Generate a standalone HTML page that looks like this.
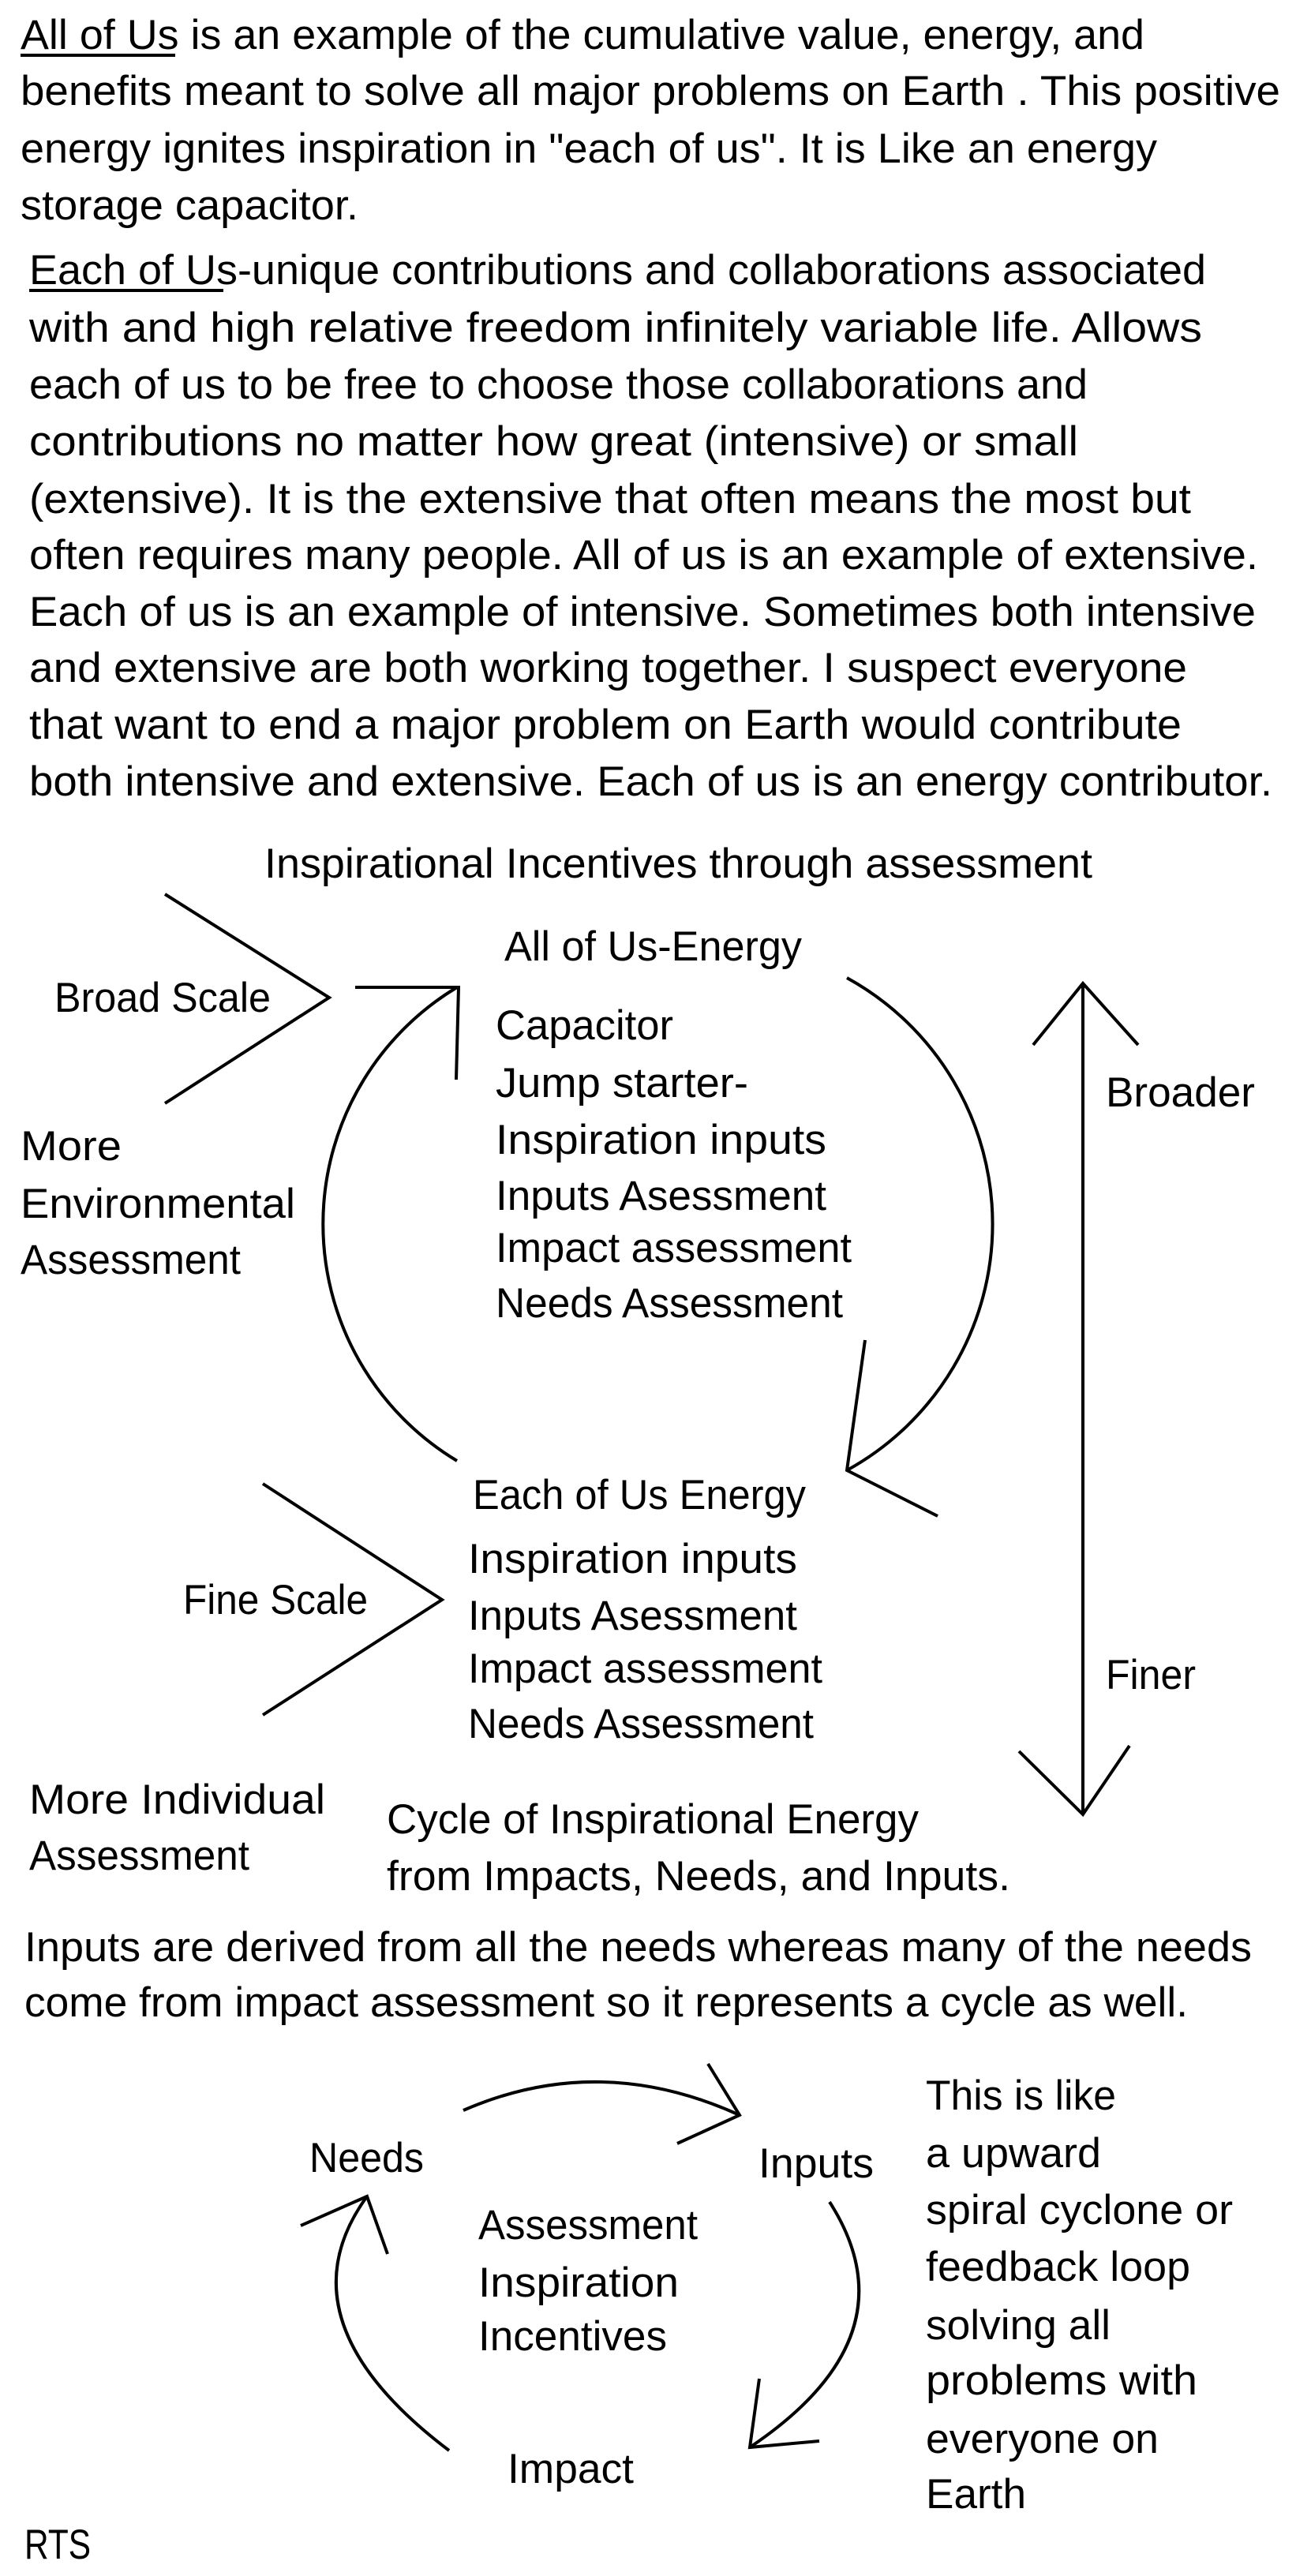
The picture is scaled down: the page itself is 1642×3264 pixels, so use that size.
<!DOCTYPE html>
<html><head><meta charset="utf-8"><style>
html,body{margin:0;padding:0;background:#fff;}
svg{display:block;}
text{font-family:"Liberation Sans",sans-serif;font-size:53px;fill:#000;}
</style></head><body>
<svg width="1642" height="3264" viewBox="0 0 1642 3264" xmlns="http://www.w3.org/2000/svg">
<g>
<text x="26" y="62" textLength="1424" lengthAdjust="spacingAndGlyphs">All of Us is an example of the cumulative value, energy, and</text>
<text x="26" y="133" textLength="1596" lengthAdjust="spacingAndGlyphs">benefits meant to solve all major problems on Earth .  This positive</text>
<text x="26" y="206" textLength="1440" lengthAdjust="spacingAndGlyphs">energy ignites inspiration in "each of us". It is Like an energy</text>
<text x="26" y="278" textLength="428" lengthAdjust="spacingAndGlyphs">storage capacitor.</text>

<text x="37" y="360" textLength="1491" lengthAdjust="spacingAndGlyphs">Each of Us-unique contributions and collaborations associated</text>
<text x="37" y="433" textLength="1486" lengthAdjust="spacingAndGlyphs">with and high relative freedom  infinitely  variable life.  Allows</text>
<text x="37" y="505" textLength="1341" lengthAdjust="spacingAndGlyphs">each of us to be free to choose those collaborations and</text>
<text x="37" y="577" textLength="1329" lengthAdjust="spacingAndGlyphs">contributions   no matter how great (intensive) or small</text>
<text x="37" y="650" textLength="1472" lengthAdjust="spacingAndGlyphs">(extensive).  It is the extensive that often means the most but</text>
<text x="37" y="721" textLength="1557" lengthAdjust="spacingAndGlyphs">often requires many people.  All of us is an example of extensive.</text>
<text x="37" y="793" textLength="1554" lengthAdjust="spacingAndGlyphs">Each of us is an example of intensive.   Sometimes both intensive</text>
<text x="37" y="864" textLength="1467" lengthAdjust="spacingAndGlyphs">and extensive are both working together.  I suspect everyone</text>
<text x="37" y="936" textLength="1460" lengthAdjust="spacingAndGlyphs">that want to end a major problem on Earth would contribute</text>
<text x="37" y="1008" textLength="1575" lengthAdjust="spacingAndGlyphs">both intensive and extensive.  Each of us is an energy contributor.</text>

<text x="335" y="1112" textLength="1049" lengthAdjust="spacingAndGlyphs">Inspirational Incentives through assessment</text>
<text x="639" y="1217" textLength="377" lengthAdjust="spacingAndGlyphs">All of Us-Energy</text>
<text x="628" y="1317" textLength="225" lengthAdjust="spacingAndGlyphs">Capacitor</text>
<text x="628" y="1390" textLength="320" lengthAdjust="spacingAndGlyphs">Jump starter-</text>
<text x="628" y="1462" textLength="419" lengthAdjust="spacingAndGlyphs">Inspiration inputs</text>
<text x="628" y="1533" textLength="419" lengthAdjust="spacingAndGlyphs">Inputs Asessment</text>
<text x="628" y="1599" textLength="451" lengthAdjust="spacingAndGlyphs">Impact assessment</text>
<text x="628" y="1669" textLength="440" lengthAdjust="spacingAndGlyphs">Needs Assessment</text>
<text x="69" y="1282" textLength="274" lengthAdjust="spacingAndGlyphs">Broad Scale</text>
<text x="26" y="1470" textLength="128" lengthAdjust="spacingAndGlyphs">More</text>
<text x="26" y="1543" textLength="348" lengthAdjust="spacingAndGlyphs">Environmental</text>
<text x="26" y="1614" textLength="279" lengthAdjust="spacingAndGlyphs">Assessment</text>
<text x="1401" y="1402" textLength="189" lengthAdjust="spacingAndGlyphs">Broader</text>
<text x="599" y="1912" textLength="422" lengthAdjust="spacingAndGlyphs">Each of Us Energy</text>
<text x="593" y="1993" textLength="417" lengthAdjust="spacingAndGlyphs">Inspiration inputs</text>
<text x="593" y="2065" textLength="417" lengthAdjust="spacingAndGlyphs">Inputs Asessment</text>
<text x="593" y="2132" textLength="449" lengthAdjust="spacingAndGlyphs">Impact assessment</text>
<text x="593" y="2202" textLength="438" lengthAdjust="spacingAndGlyphs">Needs Assessment</text>
<text x="232" y="2045" textLength="234" lengthAdjust="spacingAndGlyphs">Fine Scale</text>
<text x="1401" y="2140" textLength="114" lengthAdjust="spacingAndGlyphs">Finer</text>
<text x="37" y="2298" textLength="375" lengthAdjust="spacingAndGlyphs">More Individual</text>
<text x="37" y="2369" textLength="279" lengthAdjust="spacingAndGlyphs">Assessment</text>
<text x="490" y="2323" textLength="674" lengthAdjust="spacingAndGlyphs">Cycle of Inspirational Energy</text>
<text x="490" y="2395" textLength="790" lengthAdjust="spacingAndGlyphs">from Impacts, Needs, and Inputs.</text>
<text x="31" y="2485" textLength="1555" lengthAdjust="spacingAndGlyphs">Inputs are derived from all the needs whereas many of the needs</text>
<text x="31" y="2555" textLength="1474" lengthAdjust="spacingAndGlyphs">come from impact assessment so it represents a cycle as well.</text>

<text x="392" y="2752" textLength="145" lengthAdjust="spacingAndGlyphs">Needs</text>
<text x="961" y="2759" textLength="146" lengthAdjust="spacingAndGlyphs">Inputs</text>
<text x="606" y="2837" textLength="278" lengthAdjust="spacingAndGlyphs">Assessment</text>
<text x="606" y="2910" textLength="254" lengthAdjust="spacingAndGlyphs">Inspiration</text>
<text x="606" y="2978" textLength="239" lengthAdjust="spacingAndGlyphs">Incentives</text>
<text x="643" y="3146" textLength="160" lengthAdjust="spacingAndGlyphs">Impact</text>
<text x="1173" y="2673" textLength="241" lengthAdjust="spacingAndGlyphs">This is like</text>
<text x="1173" y="2746" textLength="222" lengthAdjust="spacingAndGlyphs">a upward</text>
<text x="1173" y="2818" textLength="389" lengthAdjust="spacingAndGlyphs">spiral cyclone or</text>
<text x="1173" y="2890" textLength="335" lengthAdjust="spacingAndGlyphs">feedback loop</text>
<text x="1173" y="2964" textLength="234" lengthAdjust="spacingAndGlyphs">solving all</text>
<text x="1173" y="3034" textLength="344" lengthAdjust="spacingAndGlyphs">problems with</text>
<text x="1173" y="3108" textLength="295" lengthAdjust="spacingAndGlyphs">everyone on</text>
<text x="1173" y="3178" textLength="127" lengthAdjust="spacingAndGlyphs">Earth</text>
<text x="31" y="3242" textLength="84" lengthAdjust="spacingAndGlyphs">RTS</text>
</g>
<g stroke="#000" stroke-width="4" fill="none" stroke-linecap="butt">
<line x1="26" y1="70" x2="222" y2="70"/>
<line x1="37" y1="368" x2="283" y2="368"/>
<polyline points="209,1133 417,1264 209,1398"/>
<polyline points="450,1251 581,1251 578,1368"/>
<path d="M579,1251 A350,350 0 0 0 579,1851"/>
<path d="M1073,1239 A356,356 0 0 1 1073,1863"/>
<polyline points="1096,1698 1073,1863 1188,1921"/>
<polyline points="333,1880 560,2027 333,2173"/>
<line x1="1372" y1="1246" x2="1372" y2="2299"/>
<polyline points="1309,1324 1372,1246 1442,1324"/>
<polyline points="1291,2219 1372,2299 1431,2212"/>
<path d="M587,2674 Q759,2599 937,2680"/>
<polyline points="897,2615 937,2680 858,2716"/>
<path d="M1051,2790 Q1160,2960 950,3101"/>
<polyline points="962,3014 950,3101 1038,3093"/>
<path d="M569,3105 Q351,2940 465,2783"/>
<polyline points="381,2820 465,2783 491,2856"/>
</g>
</svg>
</body></html>
